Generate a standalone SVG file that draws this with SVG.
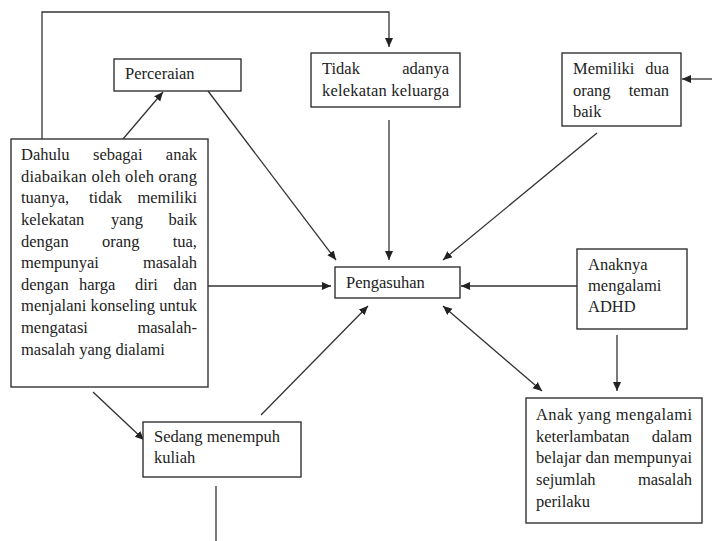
<svg xmlns="http://www.w3.org/2000/svg" width="712" height="541" viewBox="0 0 712 541">
<style>
.box{fill:#fff;stroke:#333;stroke-width:1.4}
text{font-family:"Liberation Serif","DejaVu Serif",serif;font-size:16.5px;fill:#222}
.e{text-anchor:end}
.c{fill:none;stroke:#333;stroke-width:1.3}
</style>
<defs>
<marker id="ah" markerUnits="userSpaceOnUse" markerWidth="10" markerHeight="10" refX="9" refY="5" orient="auto-start-reverse" viewBox="0 0 10 10">
<path d="M0,1 L9,5 L0,9 Z" fill="#222"/>
</marker>
</defs>
<rect width="712" height="541" fill="#fff"/>
<g id="connectors">
<path class="c" d="M42,139 V12 H389 V47" marker-end="url(#ah)"/>
<path class="c" d="M123,139 L163,92" marker-end="url(#ah)"/>
<path class="c" d="M712,79 H682" marker-end="url(#ah)"/>
<path class="c" d="M389,120 V260" marker-end="url(#ah)"/>
<path class="c" d="M208,91 L336,260" marker-end="url(#ah)"/>
<path class="c" d="M597,133 L443,260" marker-end="url(#ah)"/>
<path class="c" d="M208,286 H331" marker-end="url(#ah)"/>
<path class="c" d="M577,286 H461" marker-end="url(#ah)"/>
<path class="c" d="M261,415 L368,306" marker-end="url(#ah)"/>
<path class="c" d="M443,306 L542,391" marker-start="url(#ah)" marker-end="url(#ah)"/>
<path class="c" d="M617,335 V391" marker-end="url(#ah)"/>
<path class="c" d="M93,392 L144,440" marker-end="url(#ah)"/>
<path class="c" d="M216,486 V541"/>
</g>
<g id="perceraian">
<rect class="box" x="114" y="59" width="127" height="32"/>
<text x="125" y="79">Perceraian</text>
</g>
<g id="tidak">
<rect class="box" x="311" y="53" width="149" height="54"/>
<text x="322" y="74">Tidak</text><text class="e" x="449" y="74">adanya</text>
<text x="322" y="96" textLength="127" lengthAdjust="spacing">kelekatan keluarga</text>
</g>
<g id="memiliki">
<rect class="box" x="562" y="53" width="119" height="73"/>
<text x="573" y="74">Memiliki</text><text class="e" x="669" y="74">dua</text>
<text x="573" y="96">orang</text><text class="e" x="669" y="96">teman</text>
<text x="573" y="117">baik</text>
</g>
<g id="dahulu">
<rect class="box" x="11" y="139" width="197" height="248"/>
<text x="21" y="160">Dahulu</text><text x="93" y="160">sebagai</text><text class="e" x="197" y="160">anak</text>
<text x="21" y="182" textLength="176" lengthAdjust="spacing">diabaikan oleh oleh orang</text>
<text x="21" y="203">tuanya,</text><text x="89" y="203">tidak</text><text class="e" x="197" y="203">memiliki</text>
<text x="21" y="225">kelekatan</text><text x="111" y="225">yang</text><text class="e" x="197" y="225">baik</text>
<text x="21" y="247">dengan</text><text x="102" y="247">orang</text><text class="e" x="197" y="247">tua,</text>
<text x="21" y="268">mempunyai</text><text class="e" x="197" y="268">masalah</text>
<text x="21" y="290">dengan</text><text x="79" y="290">harga</text><text x="135" y="290">diri</text><text class="e" x="197" y="290">dan</text>
<text x="21" y="311" textLength="176" lengthAdjust="spacing">menjalani konseling untuk</text>
<text x="21" y="333">mengatasi</text><text class="e" x="197" y="333">masalah-</text>
<text x="21" y="355">masalah yang dialami</text>
</g>
<g id="pengasuhan">
<rect class="box" x="335" y="267" width="125" height="31"/>
<text x="346" y="288">Pengasuhan</text>
</g>
<g id="adhd">
<rect class="box" x="577" y="249" width="110" height="80"/>
<text x="588" y="270">Anaknya</text>
<text x="588" y="291">mengalami</text>
<text x="588" y="312">ADHD</text>
</g>
<g id="anakyang">
<rect class="box" x="526" y="398" width="176" height="125"/>
<text x="536" y="420" textLength="156" lengthAdjust="spacing">Anak yang mengalami</text>
<text x="536" y="442">keterlambatan</text><text class="e" x="692" y="442">dalam</text>
<text x="536" y="463" textLength="156" lengthAdjust="spacing">belajar dan mempunyai</text>
<text x="536" y="485">sejumlah</text><text class="e" x="692" y="485">masalah</text>
<text x="536" y="507">perilaku</text>
</g>
<g id="sedang">
<rect class="box" x="143" y="422" width="158" height="55"/>
<text x="154" y="442">Sedang menempuh</text>
<text x="154" y="463">kuliah</text>
</g>
</svg>
